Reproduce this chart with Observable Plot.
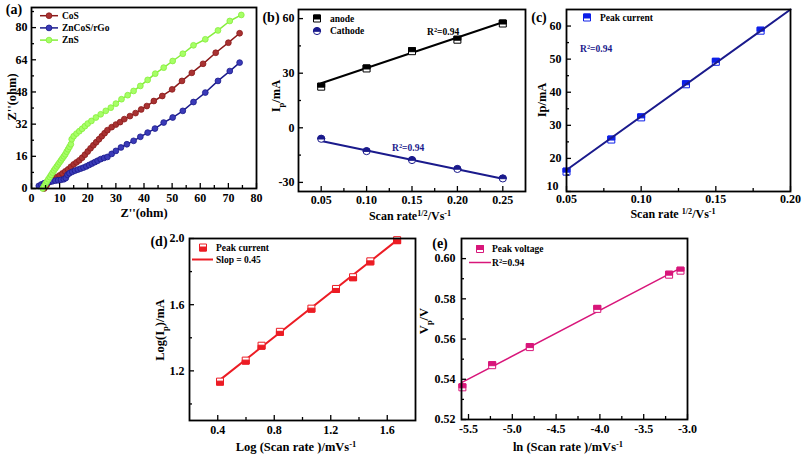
<!DOCTYPE html>
<html><head><meta charset="utf-8">
<script src="https://cdn.jsdelivr.net/npm/d3@7"></script>
<script src="https://cdn.jsdelivr.net/npm/@observablehq/plot@0.6"></script>
<style>
html,body{margin:0;padding:0;background:#fff;}
#fig{position:relative;width:803px;height:456px;overflow:hidden;}
#fig svg{position:absolute;left:0;top:0;}
</style></head><body><div id="fig"></div>
<script>
// ---------- Panel (a): Nyquist data ----------
const cosX = [4.5,5,5.5,6,6.5,7,7.5,8,9,10,11,12,13,14,15,16,17,18,19,20,21,22,23,24,25,26,27,28.5,30,31.5,33,35,37,39,41,43.5,46.5,50,53.5,57,61,65.5,70,74];
const cosY = [0,1,2,3,3.5,4,4.5,5,5.7,6.5,7.5,8.5,9.5,10.8,12,13,14,15.3,16.8,18.4,20,21.5,23,24.5,26,27.5,29,30.5,31.8,33,34.5,36,37.5,39.3,41,43.5,46,49.3,53.5,57.5,62,67.5,72.5,77.2];
const zncosX = [2.6,3.5,4.5,5.5,6.5,7.5,8.5,9.5,10.5,11.5,12.2,12.8,13.5,14.5,15.5,16.5,17.5,18.5,19.5,20.5,21.5,22.5,23.5,24.6,25.8,27,28.5,30,31.8,33.9,36.3,38.7,41.3,43.9,47,50.2,53.8,57.6,61.8,66.3,70.5,74];
const zncosY = [1.3,2,2.6,3,3.3,3.6,3.9,4.1,4.3,4.6,5.2,6.8,7.6,8.3,8.9,9.4,9.9,10.4,11,11.7,12.4,13.1,13.8,14.6,15.2,15.7,17.2,18.7,20.4,22,23.7,25.7,27.8,29.8,32.8,35.3,38.6,43,47.7,53.5,58.4,62.6];
const znsX = [4,4.5,5,5.5,6,6.5,7,7.5,8,8.5,9,9.5,10,10.5,11,11.5,12,12.5,13,13.5,14,14.3,15,16,17,18,19,20,21.3,22.9,24.6,26.4,28.2,30,32,34.2,36.3,38.7,41.3,44,47,50.2,53.8,57.6,61.8,66.3,70.5,74.6];
const znsY = [0,1.2,2.4,3.5,4.6,5.7,6.8,7.9,9,10,11,12,13,14,15,16,17,18.3,19.5,20.7,22,24.5,26,27.3,28.5,29.7,31,32.3,33.6,35.3,36.9,38.6,40.2,42.2,44.4,46.4,48.5,51,54,57.1,60.1,63.4,67,71.2,74.2,78.6,83.3,86.3];
const seriesA = ["CoS", "ZnCoS/rGo", "ZnS"];

// ---------- Panel (b) ----------
const scanB = [0.05, 0.10, 0.15, 0.20, 0.25];
const anodeB = [22.6, 32.6, 42.1, 48.4, 57.3];
const cathodeB = [-6.0, -12.8, -17.7, -22.6, -27.8];
const fitBX = [0.05, 0.25];
const fitAnodeB = [24.5, 58.0];
const fitCathodeB = [-7.2, -28.0];

// ---------- Panel (c) ----------
const scanC = [0.05, 0.08, 0.10, 0.13, 0.15, 0.18];
const peakC = [16.0, 25.7, 32.4, 42.4, 49.2, 58.6];
const fitCX = [0.05, 0.20];
const fitCY = [16.5, 65.0];

// ---------- Panel (d) ----------
const logScanD = [0.416, 0.598, 0.71, 0.84, 1.063, 1.237, 1.358, 1.48, 1.67];
const logIpD = [1.135, 1.262, 1.352, 1.436, 1.576, 1.695, 1.766, 1.862, 1.99];
const fitDX = [0.4, 1.67];
const fitDY = [1.135, 1.99];

// ---------- Panel (e) ----------
const lnScanE = [-5.57, -5.23, -4.80, -4.03, -3.21, -3.08];
const vpE = [0.536, 0.547, 0.556, 0.575, 0.592, 0.594];
const fitEX = [-5.58, -3.07];
const fitEY = [0.5383, 0.5955];

// ---------- tick labels ----------
const aXMajor = [0,10,20,30,40,50,60,70,80], aXMinor = [5,15,25,35,45,55,65,75];
const aYMajor = [0,16,32,48,64,80], aYMinor = [8,24,40,56,72,88];
const bXMajor = [0.05,0.10,0.15,0.20,0.25], bXMinor = [0.075,0.125,0.175,0.225];
const bYMajor = [-30,0,30,60], bYMinor = [-15,15,45];
const cXMajor = [0.05,0.10,0.15,0.20], cXMinor = [0.075,0.125,0.175];
const cYMajor = [10,20,30,40,50,60], cYMinor = [15,25,35,45,55];
const dXMajor = [0.4,0.8,1.2,1.6], dXMinor = [0.6,1.0,1.4];
const dYMajor = [1.2,1.6,2.0], dYMinor = [1.0,1.4,1.8];
const eXMajor = [-5.5,-5.0,-4.5,-4.0,-3.5,-3.0], eXMinor = [-5.25,-4.75,-4.25,-3.75,-3.25];
const eYMajor = [0.52,0.54,0.56,0.58,0.60], eYMinor = [0.53,0.55,0.57,0.59];

// ---------- rendering ----------
const W = 803, H = 456;
const FONT = "'Liberation Serif','Times New Roman',serif";
const zip = (xs, ys) => xs.map((x, i) => ({x, y: ys[i]}));

const S = 3.5, R = 3.6;
const sqFull = {draw(c){c.moveTo(-S,-S);c.lineTo(S,-S);c.lineTo(S,S);c.lineTo(-S,S);c.closePath();}};
const sqTop = {draw(c){c.moveTo(-S,-S);c.lineTo(S,-S);c.lineTo(S,0.5);c.lineTo(-S,0.5);c.closePath();}};
const sqBot = {draw(c){c.moveTo(-S,-0.5);c.lineTo(S,-0.5);c.lineTo(S,S);c.lineTo(-S,S);c.closePath();}};
const cirFull = {draw(c){c.moveTo(R,0);c.arc(0,0,R,0,2*Math.PI);c.closePath();}};
const cirTop = {draw(c){c.moveTo(-R,0.3);c.arc(0,0.3,R,Math.PI,2*Math.PI);c.closePath();}};

function halfMarks(data, full, half, color) {
  return [
    Plot.dot(data, {x: "x", y: "y", symbol: full, fill: "white", stroke: color, strokeWidth: 1}),
    Plot.dot(data, {x: "x", y: "y", symbol: half, fill: color, stroke: color, strokeWidth: 1})
  ];
}

function panel({frame: [l, t, r, b], xd, yd, xMajor, xMinor, yMajor, yMinor, xFmt, yFmt, xPad, yPad, marks, cornerY}) {
  const fw = r - l, fh = b - t;
  const yLab = cornerY ? yMajor.filter(v => v !== yd[0]) : yMajor;
  return Plot.plot({
    width: W, height: H,
    marginLeft: l, marginTop: t, marginRight: W - r, marginBottom: H - b,
    x: {domain: xd}, y: {domain: yd},
    style: {background: "transparent", fontFamily: FONT, fontWeight: "bold", fontSize: "12px", color: "#000", overflow: "visible"},
    marks: [
      ...marks,
      Plot.ruleX(xMajor, {insetTop: fh - 5, stroke: "#000", strokeWidth: 1.3}),
      Plot.ruleX(xMinor, {insetTop: fh - 3, stroke: "#000", strokeWidth: 1.3}),
      Plot.ruleY(yMajor, {insetRight: fw - 5, stroke: "#000", strokeWidth: 1.3}),
      Plot.ruleY(yMinor, {insetRight: fw - 3, stroke: "#000", strokeWidth: 1.3}),
      Plot.axisX({ticks: xMajor, tickSize: 0, tickPadding: xPad, tickFormat: xFmt, label: null, fontSize: 12}),
      Plot.axisY({ticks: yLab, tickSize: 0, tickPadding: yPad, tickFormat: yFmt, label: null, fontSize: 12}),
      ...(cornerY ? [Plot.axisY({ticks: [yd[0]], tickSize: 0, tickPadding: yPad + 3, tickFormat: yFmt, label: null, fontSize: 12, dy: -5})] : []),
      Plot.frame({stroke: "#000", strokeWidth: 1.8})
    ]
  });
}

function txt(svg, cx, cy, parts, o = {}) {
  const size = o.size ?? 12;
  const t = d3.select(svg).append("text")
    .attr("font-family", FONT).attr("font-weight", "bold").attr("font-size", size)
    .attr("fill", o.fill ?? "#000").attr("text-anchor", o.anchor ?? "middle");
  if (o.rotate) t.attr("transform", `translate(${cx},${cy}) rotate(-90)`).attr("x", 0).attr("y", 0.35 * size);
  else t.attr("x", cx).attr("y", cy + 0.35 * size);
  let shift = 0;
  for (const p of (typeof parts === "string" ? [parts] : parts)) {
    const [s, mode] = Array.isArray(p) ? p : [p, null];
    const target = mode === "sup" ? -0.33 * size : mode === "sub" ? 0.25 * size : 0;
    const ts = t.append("tspan").text(s).attr("dy", target - shift);
    if (mode) ts.attr("font-size", size * 0.68);
    shift = target;
  }
}
function sym(svg, x, y, symbol, fill, stroke) {
  d3.select(svg).append("path").attr("d", d3.symbol(symbol)()).attr("transform", `translate(${x},${y})`)
    .attr("fill", fill).attr("stroke", stroke).attr("stroke-width", 1);
}
function seg(svg, x1, x2, y, color, w) {
  d3.select(svg).append("line").attr("x1", x1).attr("x2", x2).attr("y1", y).attr("y2", y)
    .attr("stroke", color).attr("stroke-width", w);
}

const fig = document.getElementById("fig");
const colA = {"CoS": ["#8b1a1a", "#a83232"], "ZnCoS/rGo": ["#1c1c8c", "#3a3ab8"], "ZnS": ["#86ee3c", "#a6ff66"]};
const dataA = {"CoS": zip(cosX, cosY), "ZnCoS/rGo": zip(zncosX, zncosY), "ZnS": zip(znsX, znsY)};

// (a)
const svgA = panel({
  frame: [31, 7, 256, 188], xd: [0, 80], yd: [0, 90],
  xMajor: aXMajor, xMinor: aXMinor, yMajor: aYMajor, yMinor: aYMinor,
  xFmt: d => String(d), yFmt: d => String(d), xPad: 5, yPad: 4,
  marks: seriesA.flatMap(s => [
    Plot.line(dataA[s], {x: "x", y: "y", stroke: colA[s][0], strokeWidth: 1.5}),
    Plot.dot(dataA[s], {x: "x", y: "y", r: 2.9, fill: colA[s][1], stroke: colA[s][0], strokeWidth: 0.8})
  ])
});
fig.appendChild(svgA);
txt(svgA, 14, 9, "(a)", {size: 14});
txt(svgA, 12, 97, "Z''(ohm)", {rotate: true, size: 12.5});
txt(svgA, 144, 213, "Z''(ohm)", {size: 12.5});
seriesA.forEach((s, i) => {
  const y = 15.7 + i * 12.2;
  seg(svgA, 40, 58, y, colA[s][0], 1.5);
  d3.select(svgA).append("circle").attr("cx", 49).attr("cy", y).attr("r", 2.9)
    .attr("fill", colA[s][1]).attr("stroke", colA[s][0]).attr("stroke-width", 0.8);
  txt(svgA, 62, y, s, {size: 9.5, anchor: "start"});
});

// (b)
const navy = "#1a1a8c";
const svgB = panel({
  frame: [298, 9, 525, 191], xd: [0.025, 0.275], yd: [-35, 65],
  xMajor: bXMajor, xMinor: bXMinor, yMajor: bYMajor, yMinor: bYMinor,
  xFmt: d => d.toFixed(2), yFmt: d => String(d), xPad: 4, yPad: 4,
  marks: [
    Plot.line(zip(fitBX, fitAnodeB), {x: "x", y: "y", stroke: "#000", strokeWidth: 2}),
    Plot.line(zip(fitBX, fitCathodeB), {x: "x", y: "y", stroke: navy, strokeWidth: 2}),
    ...halfMarks(zip(scanB, anodeB), sqFull, sqTop, "#000"),
    ...halfMarks(zip(scanB, cathodeB), cirFull, cirTop, navy)
  ]
});
fig.appendChild(svgB);
txt(svgB, 271, 17, "(b)", {size: 14});
txt(svgB, 276, 96, ["I", ["p", "sub"], "/mA"], {rotate: true, size: 12.5});
txt(svgB, 410, 216, ["Scan rate", ["1/2", "sup"], "/Vs", ["-1", "sup"]]);
sym(svgB, 317, 18.5, sqFull, "white", "#000"); sym(svgB, 317, 18.5, sqTop, "#000", "#000");
txt(svgB, 330, 18.5, "anode", {size: 9.5, anchor: "start"});
sym(svgB, 317, 31, cirFull, "white", navy); sym(svgB, 317, 31, cirTop, navy, navy);
txt(svgB, 330, 31, "Cathode", {size: 9.5, anchor: "start"});
txt(svgB, 427, 32, ["R", ["2", "sup"], "=0.94"], {size: 9.5, anchor: "start"});
txt(svgB, 392, 148, ["R", ["2", "sup"], "=0.94"], {size: 9.5, anchor: "start", fill: navy});

// (c)
const blue = "#0d1fe8";
const svgC = panel({
  frame: [566, 9, 790, 191], xd: [0.05, 0.20], yd: [10, 65],
  xMajor: cXMajor, xMinor: cXMinor, yMajor: cYMajor, yMinor: cYMinor,
  xFmt: d => d.toFixed(2), yFmt: d => String(d), xPad: 3, yPad: 5, cornerY: true,
  marks: [
    ...halfMarks(zip(scanC, peakC), sqFull, sqTop, blue),
    Plot.line(zip(fitCX, fitCY), {x: "x", y: "y", stroke: navy, strokeWidth: 2})
  ]
});
fig.appendChild(svgC);
txt(svgC, 539, 17, "(c)", {size: 14});
txt(svgC, 542, 100, "Ip/mA", {rotate: true, size: 12.5});
txt(svgC, 673, 214, ["Scan rate ", ["1/2", "sup"], "/Vs", ["-1", "sup"]]);
sym(svgC, 587, 17.5, sqFull, "white", blue); sym(svgC, 587, 17.5, sqTop, blue, blue);
txt(svgC, 600, 17.5, "Peak current", {size: 9.5, anchor: "start"});
txt(svgC, 580, 49, ["R", ["2", "sup"], "=0.94"], {size: 9.5, anchor: "start", fill: navy});

// (d)
const red = "#ec1c24";
const svgD = panel({
  frame: [189, 238, 415, 420], xd: [0.2, 1.8], yd: [0.9, 2.0],
  xMajor: dXMajor, xMinor: dXMinor, yMajor: dYMajor, yMinor: dYMinor,
  xFmt: d => d.toFixed(1), yFmt: d => d.toFixed(1), xPad: 5, yPad: 5,
  marks: [
    Plot.line(zip(fitDX, fitDY), {x: "x", y: "y", stroke: red, strokeWidth: 2}),
    ...halfMarks(zip(logScanD, logIpD), sqFull, sqBot, red)
  ]
});
fig.appendChild(svgD);
txt(svgD, 159, 241, "(d)", {size: 14});
txt(svgD, 160, 330, ["Log(I", ["p", "sub"], ")/mA"], {rotate: true, size: 12.5});
txt(svgD, 296, 447, ["Log (Scan rate )/mVs", ["-1", "sup"]], {size: 12.5});
sym(svgD, 203, 247.5, sqFull, "white", red); sym(svgD, 203, 247.5, sqBot, red, red);
txt(svgD, 216, 247.5, "Peak current", {size: 9.5, anchor: "start"});
seg(svgD, 192, 213, 259.5, red, 2);
txt(svgD, 216, 259.5, "Slop = 0.45", {size: 9.5, anchor: "start"});

// (e)
const mag = "#d8167a";
const svgE = panel({
  frame: [461, 238, 687, 419], xd: [-5.58, -3.0], yd: [0.52, 0.61],
  xMajor: eXMajor, xMinor: eXMinor, yMajor: eYMajor, yMinor: eYMinor,
  xFmt: d => d.toFixed(1), yFmt: d => d.toFixed(2), xPad: 5, yPad: 6,
  marks: [
    Plot.line(zip(fitEX, fitEY), {x: "x", y: "y", stroke: mag, strokeWidth: 1.5}),
    ...halfMarks(zip(lnScanE, vpE), sqFull, sqTop, mag)
  ]
});
fig.appendChild(svgE);
txt(svgE, 440, 243, "(e)", {size: 14});
txt(svgE, 424, 321, ["V", ["p", "sub"], "/V"], {rotate: true, size: 12.5});
txt(svgE, 568, 447, ["ln (Scan rate )/mVs", ["-1", "sup"]], {size: 12.5});
sym(svgE, 480, 249, sqFull, "white", mag); sym(svgE, 480, 249, sqTop, mag, mag);
txt(svgE, 492, 249, "Peak voltage", {size: 9.5, anchor: "start"});
seg(svgE, 469, 491, 262.5, mag, 1.5);
txt(svgE, 492, 262.5, ["R", ["2", "sup"], "=0.94"], {size: 9.5, anchor: "start"});
</script></body></html>
